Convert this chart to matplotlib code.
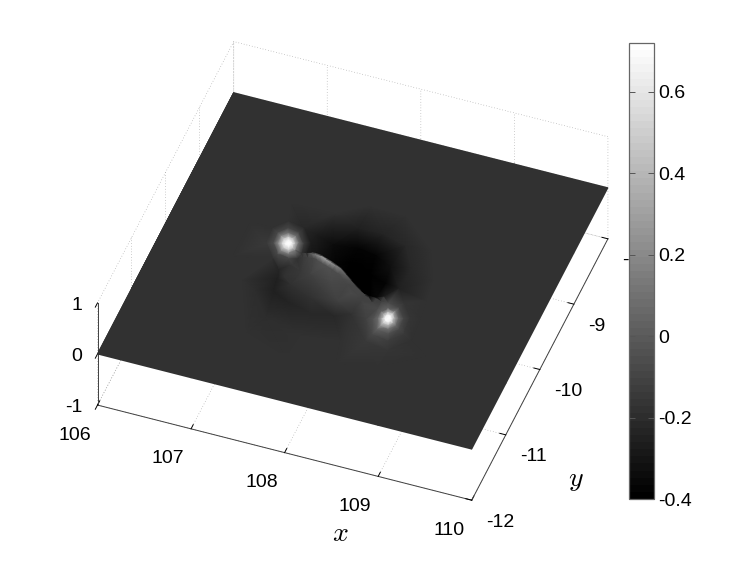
import numpy as np
import matplotlib
matplotlib.use("Agg")
import matplotlib.pyplot as plt
from matplotlib.transforms import Affine2D
from mpl_toolkits.mplot3d import proj3d

plt.rcParams['font.family'] = ['Liberation Sans', 'DejaVu Sans']
plt.rcParams['mathtext.fontset'] = 'cm'
plt.rcParams['axes.unicode_minus'] = False

x_ticks = [106, 107, 108, 109, 110]
y_ticks = [-12, -11, -10, -9, -8]
z_ticks = [-1, 0, 1]
cbar_ticks = [-0.4, -0.2, 0, 0.2, 0.4, 0.6]
cbar_labels = ['-0.4', '-0.2', '0', '0.2', '0.4', '0.6']
c_min, c_max = -0.4, 0.72
background = -0.176

# Field samples: (x, y) position and colour value
ridge_front_x = [107.425, 107.469, 107.515, 107.567, 107.624, 107.686, 107.747, 107.813, 107.877, 107.953, 108.03, 108.107, 108.179, 108.234, 108.283, 108.354, 108.425]
ridge_front_y = [-9.954, -9.927, -9.905, -9.902, -9.91, -9.934, -9.956, -9.986, -10.016, -10.078, -10.141, -10.204, -10.254, -10.286, -10.306, -10.295, -10.254]
ridge_front_c = [-0.131, -0.086, 0.003, 0.15, 0.28, 0.317, 0.272, 0.182, 0.093, 0.003, -0.053, -0.086, -0.098, -0.109, -0.12, -0.131, -0.154]

ridge_back_x = [107.428, 107.472, 107.518, 107.57, 107.627, 107.689, 107.75, 107.816, 107.88, 107.956, 108.033, 108.11, 108.182, 108.237, 108.286, 108.357, 108.428]
ridge_back_y = [-9.938, -9.911, -9.889, -9.886, -9.894, -9.918, -9.94, -9.97, -10.0, -10.062, -10.125, -10.188, -10.238, -10.27, -10.29, -10.279, -10.238]
ridge_back_c = [-0.176, -0.254, -0.288, -0.305, -0.322, -0.344, -0.355, -0.366, -0.378, -0.39, -0.4, -0.4, -0.4, -0.4, -0.39, -0.355, -0.266]

rim_inner_x = [107.416, 107.46, 107.506, 107.558, 107.615, 107.677, 107.738, 107.804, 107.868, 107.944, 108.021, 108.098, 108.17, 108.225, 108.274, 108.345, 108.416]
rim_inner_y = [-10.018, -9.991, -9.969, -9.966, -9.974, -9.998, -10.02, -10.05, -10.08, -10.142, -10.205, -10.268, -10.318, -10.35, -10.37, -10.359, -10.318]
rim_inner_c = [-0.176, -0.154, -0.12, -0.09, -0.064, -0.042, -0.042, -0.053, -0.064, -0.075, -0.086, -0.098, -0.098, -0.109, -0.109, -0.12, -0.131]

hump_x = [107.479, 107.509, 107.618, 107.841, 107.736, 108.006, 108.094, 108.266, 107.399, 107.373, 107.786]
hump_y = [-10.39, -10.181, -10.186, -10.21, -10.508, -10.454, -10.315, -10.404, -10.116, -10.307, -10.352]
hump_c = [-0.176, -0.143, -0.12, -0.075, -0.176, -0.12, -0.075, -0.086, -0.154, -0.187, -0.131]

ring_x = [107.291, 107.326, 107.352, 107.577, 107.815, 108.042, 108.192, 107.182, 107.4, 107.828, 108.231]
ring_y = [-10.232, -10.355, -10.543, -10.658, -10.722, -10.669, -10.583, -10.606, -10.906, -11.052, -10.98]
ring_c = [-0.232, -0.254, -0.243, -0.232, -0.221, -0.221, -0.176, -0.198, -0.198, -0.187, -0.176]

spot_a_x = [107.258,
            107.286, 107.288, 107.273, 107.248, 107.23, 107.228, 107.243, 107.268,
            107.315, 107.319, 107.288, 107.239, 107.201, 107.197, 107.228, 107.277,
            107.352, 107.36, 107.307, 107.226, 107.164, 107.156, 107.209, 107.29,
            107.4, 107.332, 107.21, 107.116, 107.106, 107.184, 107.306,
            107.466, 107.366, 107.188, 107.05, 107.034, 107.15, 107.328]
spot_a_y = [-9.848,
            -9.838, -9.869, -9.888, -9.884, -9.858, -9.827, -9.808, -9.812,
            -9.827, -9.89, -9.928, -9.92, -9.869, -9.806, -9.768, -9.776,
            -9.813, -9.918, -9.982, -9.967, -9.883, -9.778, -9.714, -9.729,
            -9.796, -10.049, -10.027, -9.9, -9.743, -9.647, -9.669,
            -9.771, -10.143, -10.11, -9.925, -9.694, -9.553, -9.586]
spot_a_c = [0.72,
            0.68, 0.68, 0.68, 0.68, 0.68, 0.68, 0.68, 0.68,
            0.44, 0.46, 0.5, 0.52, 0.54, 0.5, 0.46, 0.44,
            0.12, 0.14, 0.16, 0.2, 0.22, 0.18, 0.12, 0.1,
            -0.13, -0.086, -0.08, -0.06, -0.08, -0.1, -0.12,
            -0.266, -0.176, -0.176, -0.154, -0.176, -0.176, -0.21]

spot_b_x = [108.567,
            108.595, 108.597, 108.582, 108.557, 108.539, 108.537, 108.552, 108.577,
            108.624, 108.628, 108.597, 108.548, 108.51, 108.506, 108.537, 108.586,
            108.661, 108.669, 108.616, 108.535, 108.473, 108.465, 108.518, 108.599,
            108.709, 108.719, 108.641, 108.519, 108.425, 108.415, 108.493, 108.615,
            108.775, 108.791, 108.675, 108.497, 108.359, 108.637,
            108.465, 108.724, 108.893, 108.869]
spot_b_y = [-10.521,
            -10.511, -10.542, -10.561, -10.557, -10.531, -10.5, -10.481, -10.485,
            -10.5, -10.563, -10.601, -10.593, -10.542, -10.479, -10.441, -10.449,
            -10.486, -10.591, -10.655, -10.64, -10.556, -10.451, -10.387, -10.402,
            -10.469, -10.626, -10.722, -10.7, -10.573, -10.416, -10.32, -10.342,
            -10.444, -10.675, -10.816, -10.783, -10.598, -10.259,
            -10.902, -10.95, -10.745, -10.409]
spot_b_c = [0.72,
            0.68, 0.66, 0.66, 0.7, 0.66, 0.66, 0.66, 0.7,
            0.38, 0.38, 0.42, 0.52, 0.36, 0.32, 0.38, 0.48,
            0.06, 0.09, 0.12, 0.26, 0.06, 0.03, 0.03, 0.12,
            -0.1, -0.08, -0.04, 0.02, -0.05, -0.07, -0.06, -0.09,
            -0.165, -0.155, -0.13, -0.08, -0.12, -0.17,
            -0.155, -0.17, -0.176, -0.176]

hole_x = [107.488, 107.688, 107.835, 107.933, 108.111, 108.143, 108.344, 108.194, 108.376, 108.523, 108.533, 108.378, 107.941, 107.554, 107.85, 108.23, 108.638, 108.805, 108.837]
hole_y = [-9.627, -9.705, -9.406, -9.674, -9.397, -9.719, -9.827, -10.004, -10.059, -10.081, -9.758, -9.48, -9.9, -9.282, -9.067, -9.079, -9.46, -9.855, -10.148]
hole_c = [-0.266, -0.344, -0.243, -0.366, -0.232, -0.366, -0.322, -0.4, -0.366, -0.254, -0.21, -0.21, -0.39, -0.187, -0.187, -0.176, -0.176, -0.176, -0.176]

flat_x = [106, 107, 108, 109, 110, 106, 110, 106, 110, 106, 110, 106, 107, 108, 109, 110, 106.6, 109.4,
          107.0, 107.3, 107.8, 108.3, 108.7, 109.1, 109.2, 109.1, 108.8, 108.4, 107.9, 107.4, 107.1, 106.8, 106.8]
flat_y = [-12, -12, -12, -12, -12, -11, -11, -10, -10, -9, -9, -8, -8, -8, -8, -8, -10, -10,
          -10.5, -11.2, -11.4, -11.3, -11.2, -10.9, -10.4, -9.7, -9.1, -8.8, -8.8, -9.0, -9.3, -9.7, -10.2]

node_x = np.array(ridge_front_x + ridge_back_x + rim_inner_x + hump_x + ring_x + spot_a_x + spot_b_x + hole_x + flat_x, dtype=float)
node_y = np.array(ridge_front_y + ridge_back_y + rim_inner_y + hump_y + ring_y + spot_a_y + spot_b_y + hole_y + flat_y, dtype=float)
node_c = np.array(ridge_front_c + ridge_back_c + rim_inner_c + hump_c + ring_c + spot_a_c + spot_b_c + hole_c + [background] * len(flat_x), dtype=float)

W, H = 747, 562
fig = plt.figure(figsize=(W / 100, H / 100), dpi=100, facecolor='white')
cmap = plt.get_cmap('gray', 64)

ax = fig.add_axes([0, 0, 1, 1], projection='3d', computed_zorder=False)
ax.set_proj_type('ortho')
ax.view_init(elev=44.3, azim=-70)
ax.set_box_aspect((398, 398, 142.6))
ax.set_xlim(106, 110)
ax.set_ylim(-12, -8)
ax.set_zlim(-1, 1)
ax.patch.set_alpha(0)


def project(xs, ys, zs):
    ax.apply_aspect()
    px, py, _ = proj3d.proj_transform(np.asarray(xs, float), np.asarray(ys, float),
                                      np.asarray(zs, float), ax.get_proj())
    return px, py


def to_display(xs, ys, zs):
    px, py = project(xs, ys, zs)
    return ax.transData.transform(np.column_stack([px, py]))


# Place the cube so that the z=0 plane corners land on the reference's corners
target_a = np.array([97.5, H - 354.0])
target_b = np.array([608.0, H - 188.0])
size = 600.0
ax.set_position([0, 0, size / W, size / H])
pts = to_display([106, 110], [-12, -8], [0, 0])
size *= np.linalg.norm(target_b - target_a) / np.linalg.norm(pts[1] - pts[0])
ax.set_position([0, 0, size / W, size / H])
pts = to_display([106, 110], [-12, -8], [0, 0])
off = target_a - pts[0]
ax.set_position([off[0] / W, off[1] / H, size / W, size / H])

for axis in (ax.xaxis, ax.yaxis, ax.zaxis):
    axis.pane.set_facecolor((1, 1, 1, 0))
    axis.pane.set_edgecolor((1, 1, 1, 0))
    axis.line.set_color('#404040')
    axis.line.set_linewidth(0.7)
    axis._axinfo['grid'].update(color='#a0a0a0', linewidth=0.5, linestyle=(0, (1, 3)))
    axis._axinfo['tick'].update(inward_factor=0.0, outward_factor=0.2, linewidth={True: 0.7, False: 0.7}, color='#404040')
ax.zaxis._axinfo['tick'].update(inward_factor=0.2, outward_factor=0.0)
ax.set_xticks(x_ticks)
ax.set_yticks(y_ticks)
ax.set_zticks(z_ticks)
ax.set_xticklabels([''] * len(x_ticks))
ax.set_yticklabels([''] * len(y_ticks))
ax.set_zticklabels([''] * len(z_ticks))
ax.zaxis.set_ticks_position('lower')
ax.grid(True)

# Surface painted with smooth vertex shading over the same projection
ov = fig.add_axes([0, 0, 1, 1], zorder=2)
ov.axis('off')
ov.patch.set_alpha(0)
proj_x, proj_y = project(node_x, node_y, np.zeros_like(node_x))
mesh = ov.tripcolor(proj_x, proj_y, node_c, shading='gouraud', cmap=cmap, vmin=c_min, vmax=c_max,
                    transform=ax.transData)
mesh.set_clip_on(False)


def tick_label(x, y, z, text, dx, dy, ha):
    """Tick label offset from its tick by (dx, dy) pixels, dy downward."""
    px, py = project([x], [y], [z])
    disp = ax.transData.transform([[px[0], py[0]]])[0]
    fig.text((disp[0] + dx) / W, (disp[1] - dy) / H, text, fontsize=14, ha=ha, va='center', zorder=1)


for v in x_ticks:
    tick_label(v, y_ticks[0], z_ticks[0], str(v), -23, 30, 'center')
for v in y_ticks:
    tick_label(x_ticks[-1], v, z_ticks[0], str(v), 14, 22, 'left')
for v in z_ticks:
    tick_label(x_ticks[0], y_ticks[0], v, str(v), -15, 2.5, 'right')

# Colour bar
cax = fig.add_axes([629 / W, 1 - 499 / H, 25 / W, 456 / H], zorder=3)
cax.set_facecolor('white')
cb = fig.colorbar(mesh, cax=cax, ticks=cbar_ticks)
cb.ax.set_yticklabels(cbar_labels)
cb.ax.tick_params(direction='in', length=4, width=0.7, color='#555555', left=True, right=True, labelsize=14, pad=3)
cb.outline.set_edgecolor('#666666')
cb.outline.set_linewidth(0.9)

fig.text(340 / W, 1 - 534 / H, r'$x$', fontsize=20, ha='center', va='center')
fig.text(576 / W, 1 - 480 / H, r'$y$', fontsize=20, ha='center', va='center')

fig.savefig('out.png', dpi=100, facecolor='white')
